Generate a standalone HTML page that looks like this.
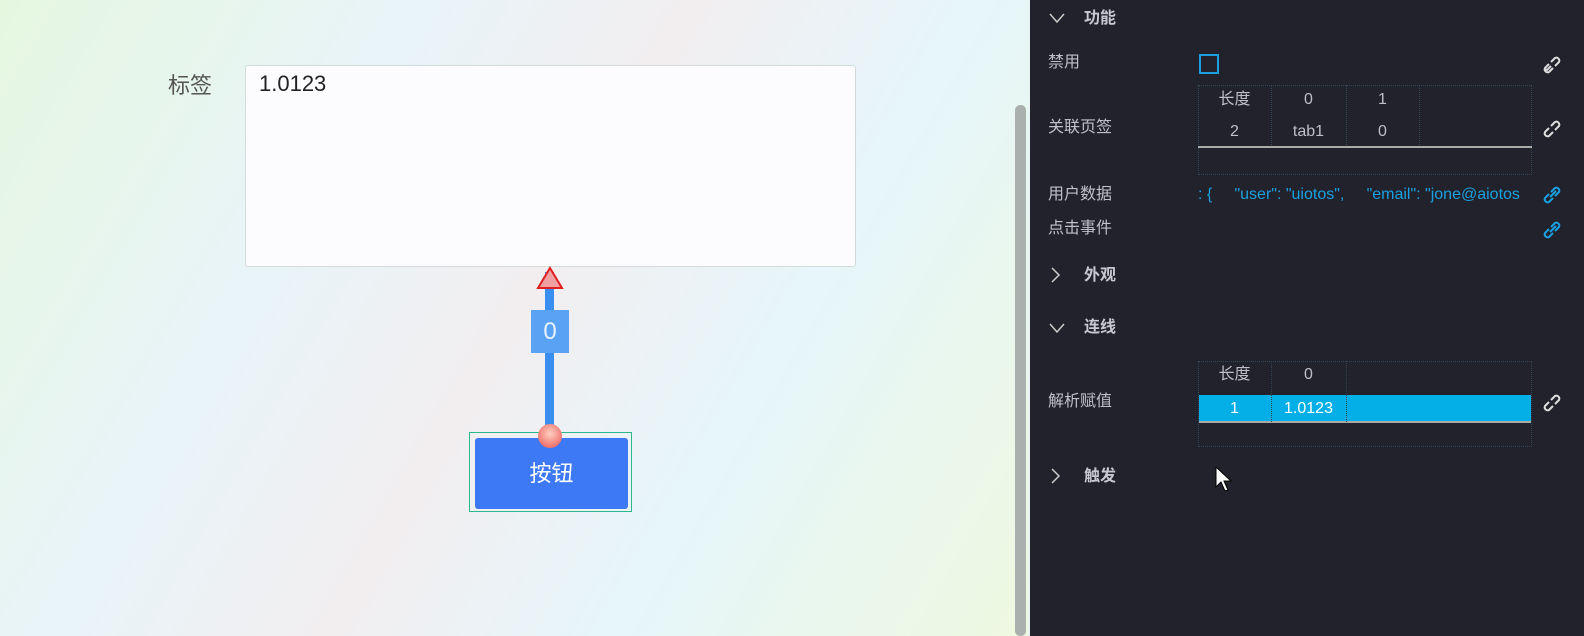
<!DOCTYPE html>
<html><head><meta charset="utf-8"><style>
*{margin:0;padding:0;box-sizing:border-box}
body{width:1584px;height:636px;overflow:hidden;position:relative;font-family:"Liberation Sans","Noto Sans CJK SC",sans-serif;background:#eef6f4}
.left{position:absolute;left:0;top:0;width:1028px;height:636px;background:linear-gradient(120deg,#e6f7e0 0%,#e8f4f8 30%,#f2eef0 50%,#e6f6fa 70%,#eef8e0 100%)}
.a{position:absolute}
.panel{position:absolute;left:1028px;top:0;width:556px;height:636px;background:#22222c;color:#c8c8d0;font-size:16px;border-left:2px solid #e8f4f4}
.lbl{position:absolute;left:18px;color:#c0c0cc;line-height:20px}
.hd{position:absolute;left:54px;font-weight:bold;color:#c8c8d4;line-height:20px}
.ch{position:absolute;left:18px}
.tbl{position:absolute;border:1px dotted #34485a}
.cell{position:absolute;text-align:center;color:#bfbfcc;font-size:16px;height:20px;line-height:20px}
.vl{position:absolute;width:0;border-left:1px dotted #34485a}
.link{position:absolute;left:512px}
</style></head><body>
<div class="left"></div>
<div class="a" style="left:168px;top:68px;font-size:22px;color:#555">标签</div>
<div class="a" style="left:245px;top:65px;width:611px;height:202px;background:#fcfcfe;border:1px solid #d4dada;border-radius:3px;padding:5px 13px;font-size:22px;color:#222">1.0123</div>
<div class="a" style="left:545px;top:272px;width:9px;height:163px;background:#3a8ef0"></div>
<svg class="a" style="left:535px;top:266px" width="30" height="24"><polygon points="15,2 27,22 3,22" fill="#f0a0a0" stroke="#e02020" stroke-width="2"/></svg>
<div class="a" style="left:531px;top:310px;width:38px;height:43px;background:#5aa2f4;color:#eaf2ff;font-size:24px;text-align:center;line-height:43px">0</div>
<div class="a" style="left:469px;top:432px;width:163px;height:80px;border:1px solid #2cb88a"></div>
<div class="a" style="left:475px;top:438px;width:153px;height:71px;background:#3d79f4;border-radius:3px;color:#fff;font-size:22px;text-align:center;line-height:71px">按钮</div>
<div class="a" style="left:538px;top:424px;width:24px;height:24px;border-radius:50%;background:radial-gradient(circle at 50% 40%,#ffd0c0,#e85050)"></div>
<div class="a" style="left:1015px;top:105px;width:11px;height:531px;background:#a9b0ad;border-radius:5px"></div>
<div class="panel">
<svg class="ch" style="top:12px" width="18" height="12"><polyline points="2,2 9,10 16,2" fill="none" stroke="#ccc" stroke-width="1.5"/></svg><div class="hd" style="top:9px">功能</div>
<div class="lbl" style="top:53px">禁用</div>
<div class="a" style="left:169px;top:54px;width:20px;height:20px;border:2px solid #1aa0e0"></div>
<div class="lbl" style="top:118px">关联页签</div>
<div class="tbl" style="left:168px;top:85px;width:334px;height:90px"></div>
<div class="vl" style="left:241px;top:85px;height:62px"></div>
<div class="vl" style="left:316px;top:85px;height:62px"></div>
<div class="vl" style="left:389px;top:85px;height:62px"></div>
<div class="a" style="left:168px;top:146px;width:334px;height:2px;background:#aaa"></div>
<div class="cell" style="left:168px;top:90px;width:73px">长度</div>
<div class="cell" style="left:241px;top:90px;width:75px">0</div>
<div class="cell" style="left:316px;top:90px;width:73px">1</div>
<div class="cell" style="left:168px;top:122px;width:73px">2</div>
<div class="cell" style="left:241px;top:122px;width:75px">tab1</div>
<div class="cell" style="left:316px;top:122px;width:73px">0</div>
<div class="lbl" style="top:185px">用户数据</div>
<div class="a" style="left:168px;top:185px;width:334px;overflow:hidden;white-space:pre;color:#1aa0e0;font-size:16px;line-height:20px">: {     "user": "uiotos",     "email": "jone@aiotos</div>
<div class="lbl" style="top:219px">点击事件</div>
<svg class="ch" style="top:266px" width="14" height="18"><polyline points="4,2 11,9 4,16" fill="none" stroke="#ccc" stroke-width="1.5"/></svg><div class="hd" style="top:266px">外观</div>
<svg class="ch" style="top:322px" width="18" height="12"><polyline points="2,2 9,10 16,2" fill="none" stroke="#ccc" stroke-width="1.5"/></svg><div class="hd" style="top:318px">连线</div>
<div class="lbl" style="top:392px">解析赋值</div>
<div class="tbl" style="left:168px;top:361px;width:334px;height:86px"></div>
<div class="a" style="left:169px;top:395px;width:332px;height:28px;background:#04aee6"></div>
<div class="a" style="left:169px;top:421px;width:332px;height:2px;background:#aaa"></div>
<div class="vl" style="left:241px;top:361px;height:61px;border-color:#345"></div>
<div class="vl" style="left:316px;top:361px;height:61px;border-color:#345"></div>
<div class="cell" style="left:168px;top:365px;width:73px">长度</div>
<div class="cell" style="left:241px;top:365px;width:75px">0</div>
<div class="cell" style="left:168px;top:399px;width:73px;color:#fff">1</div>
<div class="cell" style="left:241px;top:399px;width:75px;color:#fff">1.0123</div>
<svg class="ch" style="top:467px" width="14" height="18"><polyline points="4,2 11,9 4,16" fill="none" stroke="#ccc" stroke-width="1.5"/></svg><div class="hd" style="top:467px">触发</div>
<svg class="a" style="left:184px;top:465px" width="20" height="28"><polygon points="2,2 2,22 7,17 11,26 14,25 10,16 17,16" fill="#fff" stroke="#000" stroke-width="1"/></svg>
<svg class="link" style="top:53px" width="22" height="22"><g fill="none" stroke="#ddd" stroke-width="2"><path d="M9,13 L5,17 a3,3 0 0 1 -1,-1 M9,9 l4,-4 a3,3 0 0 1 4,4 l-4,4"/><path d="M11,15 l-4,4 a3,3 0 0 1 -4,-4 l4,-4"/></g></svg>
<svg class="link" style="top:117px" width="22" height="22"><g fill="none" stroke="#ddd" stroke-width="2"><path d="M9,9 l4,-4 a3,3 0 0 1 4,4 l-4,4"/><path d="M11,15 l-4,4 a3,3 0 0 1 -4,-4 l4,-4"/></g></svg>
<svg class="link" style="top:183px" width="22" height="22"><g fill="none" stroke="#1aa0e0" stroke-width="2"><path d="M9,9 l4,-4 a3,3 0 0 1 4,4 l-4,4"/><path d="M11,15 l-4,4 a3,3 0 0 1 -4,-4 l4,-4"/><path d="M8,14 l6,-6"/></g></svg>
<svg class="link" style="top:218px" width="22" height="22"><g fill="none" stroke="#1aa0e0" stroke-width="2"><path d="M9,9 l4,-4 a3,3 0 0 1 4,4 l-4,4"/><path d="M11,15 l-4,4 a3,3 0 0 1 -4,-4 l4,-4"/><path d="M8,14 l6,-6"/></g></svg>
<svg class="link" style="top:391px" width="22" height="22"><g fill="none" stroke="#ddd" stroke-width="2"><path d="M9,9 l4,-4 a3,3 0 0 1 4,4 l-4,4"/><path d="M11,15 l-4,4 a3,3 0 0 1 -4,-4 l4,-4"/></g></svg>
</div>
</body></html>
